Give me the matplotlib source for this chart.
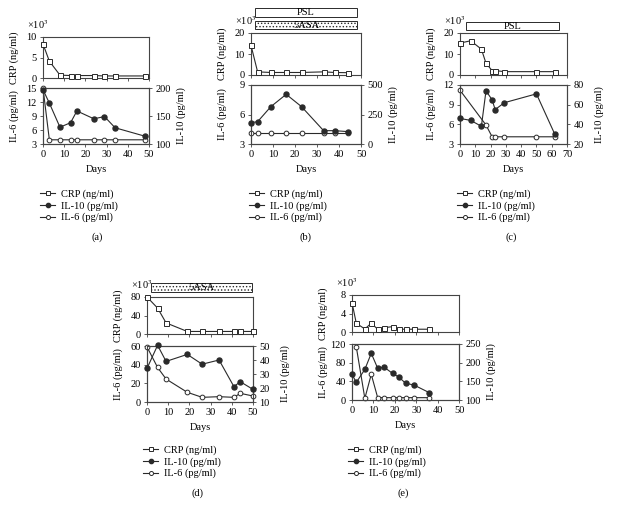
import matplotlib
matplotlib.use('Agg')
import matplotlib.pyplot as plt
from matplotlib.patches import Rectangle

plt.rcParams['font.family'] = ['Liberation Serif', 'DejaVu Serif']
plt.rcParams['font.size'] = 7.5
plt.rcParams['mathtext.fontset'] = 'stix'
plt.rcParams['hatch.linewidth'] = 0.6
plt.rcParams['hatch.color'] = '#555555'

# ---- data (CRP in x10^3 ng/ml) ----
# (a)
a_days = [0, 3, 8, 13, 16, 24, 29, 34, 48]
a_crp = [8.3, 4.1, 0.7, 0.6, 0.6, 0.6, 0.5, 0.5, 0.5]
a_il10 = [197, 173, 130, 138, 159, 145, 149, 129, 114]
a_il6 = [15, 3.9, 3.9, 3.9, 3.9, 3.9, 3.9, 3.9, 3.9]

# (b)
b_days = [0, 3, 9, 16, 23, 33, 38, 44]
b_crp = [14.1, 1.5, 1.2, 1.2, 1.2, 1.5, 1.2, 1.1]
b_il10 = [181, 189, 316, 421, 316, 113, 113, 105]
b_il6 = [4.1, 4.1, 4.1, 4.1, 4.1, 4.1, 4.1, 4.1]
b_psl = (2, 48)
b_5asa = (2, 48)

# (c)
c_days = [0, 7, 14, 17, 21, 23, 29, 50, 62]
c_crp = [15.2, 16.3, 12.3, 5.6, 2.1, 2.1, 1.6, 1.6, 1.6]
c_il10 = [46, 44, 38, 74, 65, 55, 62, 71, 30]
c_days_il6 = [0, 17, 21, 23, 29, 50, 62]
c_il6 = [11.2, 5.9, 4.1, 4.1, 4.1, 4.1, 4.1]
c_psl = (4, 65)

# (d)
d_days = [0, 5, 9, 19, 26, 34, 41, 44, 50]
d_crp = [80, 56, 24, 5.5, 5.5, 5.5, 5.5, 5.5, 5.5]
d_il10 = [34, 50.5, 39, 44, 37, 40, 21, 24.5, 19]
d_il6 = [59, 37, 24.6, 10.4, 5, 5.7, 5, 9.3, 6.4]
d_5asa = (2, 49.5)

# (e)
e_days = [0, 2, 6, 9, 12, 15, 19, 22, 25, 29, 36]
e_crp = [6.35, 1.9, 0.65, 1.9, 0.6, 0.95, 1.15, 0.6, 0.6, 0.6, 0.6]
e_il10 = [169, 147, 182, 225, 185, 188, 171, 161, 145, 140, 120]
e_days_il6 = [2, 6, 9, 12, 15, 19, 22, 25, 29, 36]
e_il6 = [114, 3.5, 55, 5, 5, 5, 5, 5, 5, 5]

labels = ['CRP (ng/ml)', 'IL-10 (pg/ml)', 'IL-6 (pg/ml)']

W, H = 624, 507
fig = plt.figure(figsize=(W / 100, H / 100), dpi=100)
LINE = '#2a2a2a'
SPINE = '#444444'


def px_axes(l, t, r, b):
    return fig.add_axes([l / W, 1 - b / H, (r - l) / W, (b - t) / H])


def style(ax):
    for s in ax.spines.values():
        s.set_color(SPINE)
        s.set_linewidth(0.8)
    ax.tick_params(direction='out', length=2.5, width=0.6, pad=2,
                   color=SPINE, labelsize=7.5)


def add_bar(l, r, t, b, xmax, span, name, dotted):
    bax = px_axes(l, t, r, b)
    bax.set_zorder(-1)
    bax.set_xlim(0, xmax)
    bax.set_ylim(0, 1)
    bax.axis('off')
    bax.add_patch(Rectangle((span[0], 0), span[1] - span[0], 1,
                            facecolor='white', edgecolor=LINE, lw=0.7,
                            hatch='.....' if dotted else None, clip_on=False))
    bax.text((span[0] + span[1]) / 2, 0.45, name, ha='center', va='center')


def panel(box, xmax, days_crp, crp, crp_ticks, days10, il10, il10_ticks,
          days6, il6, il6_ticks, legend_xy, letter, letter_xy):
    l, r, ct, cb, it, ib = box
    w = r - l

    ax_c = px_axes(l, ct, r, cb)
    crp_h, = ax_c.plot(days_crp, crp, color=LINE, lw=0.8, marker='s', ms=3.6,
                       mfc='white', mec=LINE, mew=0.7, clip_on=False, zorder=3)
    ax_c.set_xlim(0, xmax)
    ax_c.set_ylim(crp_ticks[0], crp_ticks[-1])
    ax_c.set_yticks(crp_ticks)
    ax_c.set_xticks(range(0, xmax + 1, 10))
    ax_c.tick_params(labelbottom=False)
    style(ax_c)
    ax_c.set_ylabel('CRP (ng/ml)')
    ax_c.yaxis.set_label_coords(-24 / w, 0.5)
    ax_c.annotate('×10$^{3}$', xy=(0, 1), xycoords='axes fraction',
                  xytext=(-16, 12), textcoords='offset pixels',
                  ha='left', va='center')

    ax_i = px_axes(l, it, r, ib)
    ax_r = ax_i.twinx()
    l6, = ax_i.plot(days6, il6, color=LINE, lw=0.8, marker='o', ms=3.4,
                    mfc='white', mec=LINE, mew=0.7, clip_on=False, zorder=3)
    l10, = ax_r.plot(days10, il10, color=LINE, lw=0.8, marker='o', ms=3.6,
                     mfc=LINE, mec=LINE, clip_on=False, zorder=3)
    ax_i.set_xlim(0, xmax)
    ax_i.set_xticks(range(0, xmax + 1, 10))
    ax_i.set_ylim(il6_ticks[0], il6_ticks[-1])
    ax_i.set_yticks(il6_ticks)
    ax_r.set_ylim(il10_ticks[0], il10_ticks[-1])
    ax_r.set_yticks(il10_ticks)
    style(ax_i)
    style(ax_r)
    ax_i.set_ylabel('IL-6 (pg/ml)')
    ax_i.yaxis.set_label_coords(-24 / w, 0.5)
    ax_r.set_ylabel('IL-10 (pg/ml)')
    ax_r.yaxis.set_label_coords(1 + 27 / w, 0.5)
    ax_i.set_xlabel('Days', va='center')
    ax_i.xaxis.set_label_coords(0.5, -26 / (ib - it))

    ax_r.legend([crp_h, l10, l6], labels, loc='upper left',
                bbox_to_anchor=(legend_xy[0] / W, 1 - legend_xy[1] / H),
                bbox_transform=fig.transFigure, frameon=False,
                handlelength=1.45, handletextpad=0.6, labelspacing=0.22,
                borderpad=0, borderaxespad=0, markerscale=0.85)
    fig.text(letter_xy[0] / W, 1 - letter_xy[1] / H, letter,
             ha='center', va='center')


panel((43, 149, 37, 78, 88, 144), 50, a_days, a_crp, [0, 5, 10],
      a_days, a_il10, [100, 150, 200], a_days, a_il6, [3, 6, 9, 12, 15],
      (40, 189), '(a)', (97, 237))

panel((251, 361, 33, 75, 85, 144), 50, b_days, b_crp, [0, 10, 20],
      b_days, b_il10, [0, 250, 500], b_days, b_il6, [3, 6, 9],
      (249, 189), '(b)', (306, 237))
add_bar(251, 361, 8, 17, 50, b_psl, 'PSL', False)
add_bar(251, 361, 21, 29, 50, b_5asa, '5ASA', True)

panel((460, 567, 33, 75, 85, 144), 70, c_days, c_crp, [0, 10, 20],
      c_days, c_il10, [20, 40, 60, 80], c_days_il6, c_il6, [3, 6, 9, 12],
      (457, 189), '(c)', (511, 237))
add_bar(460, 567, 22, 30, 70, c_psl, 'PSL', False)

panel((147, 253, 297, 334, 346, 402), 50, d_days, d_crp, [0, 40, 80],
      d_days, d_il10, [10, 20, 30, 40, 50], d_days, d_il6, [0, 20, 40, 60],
      (143, 445), '(d)', (198, 493))
add_bar(147, 253, 283, 292, 50, d_5asa, '5ASA', True)

panel((352, 459, 295, 332, 344, 400), 50, e_days, e_crp, [0, 4, 8],
      e_days, e_il10, [100, 150, 200, 250], e_days_il6, e_il6, [0, 40, 80, 120],
      (348, 445), '(e)', (403, 493))

fig.savefig('out.png', dpi=100)
